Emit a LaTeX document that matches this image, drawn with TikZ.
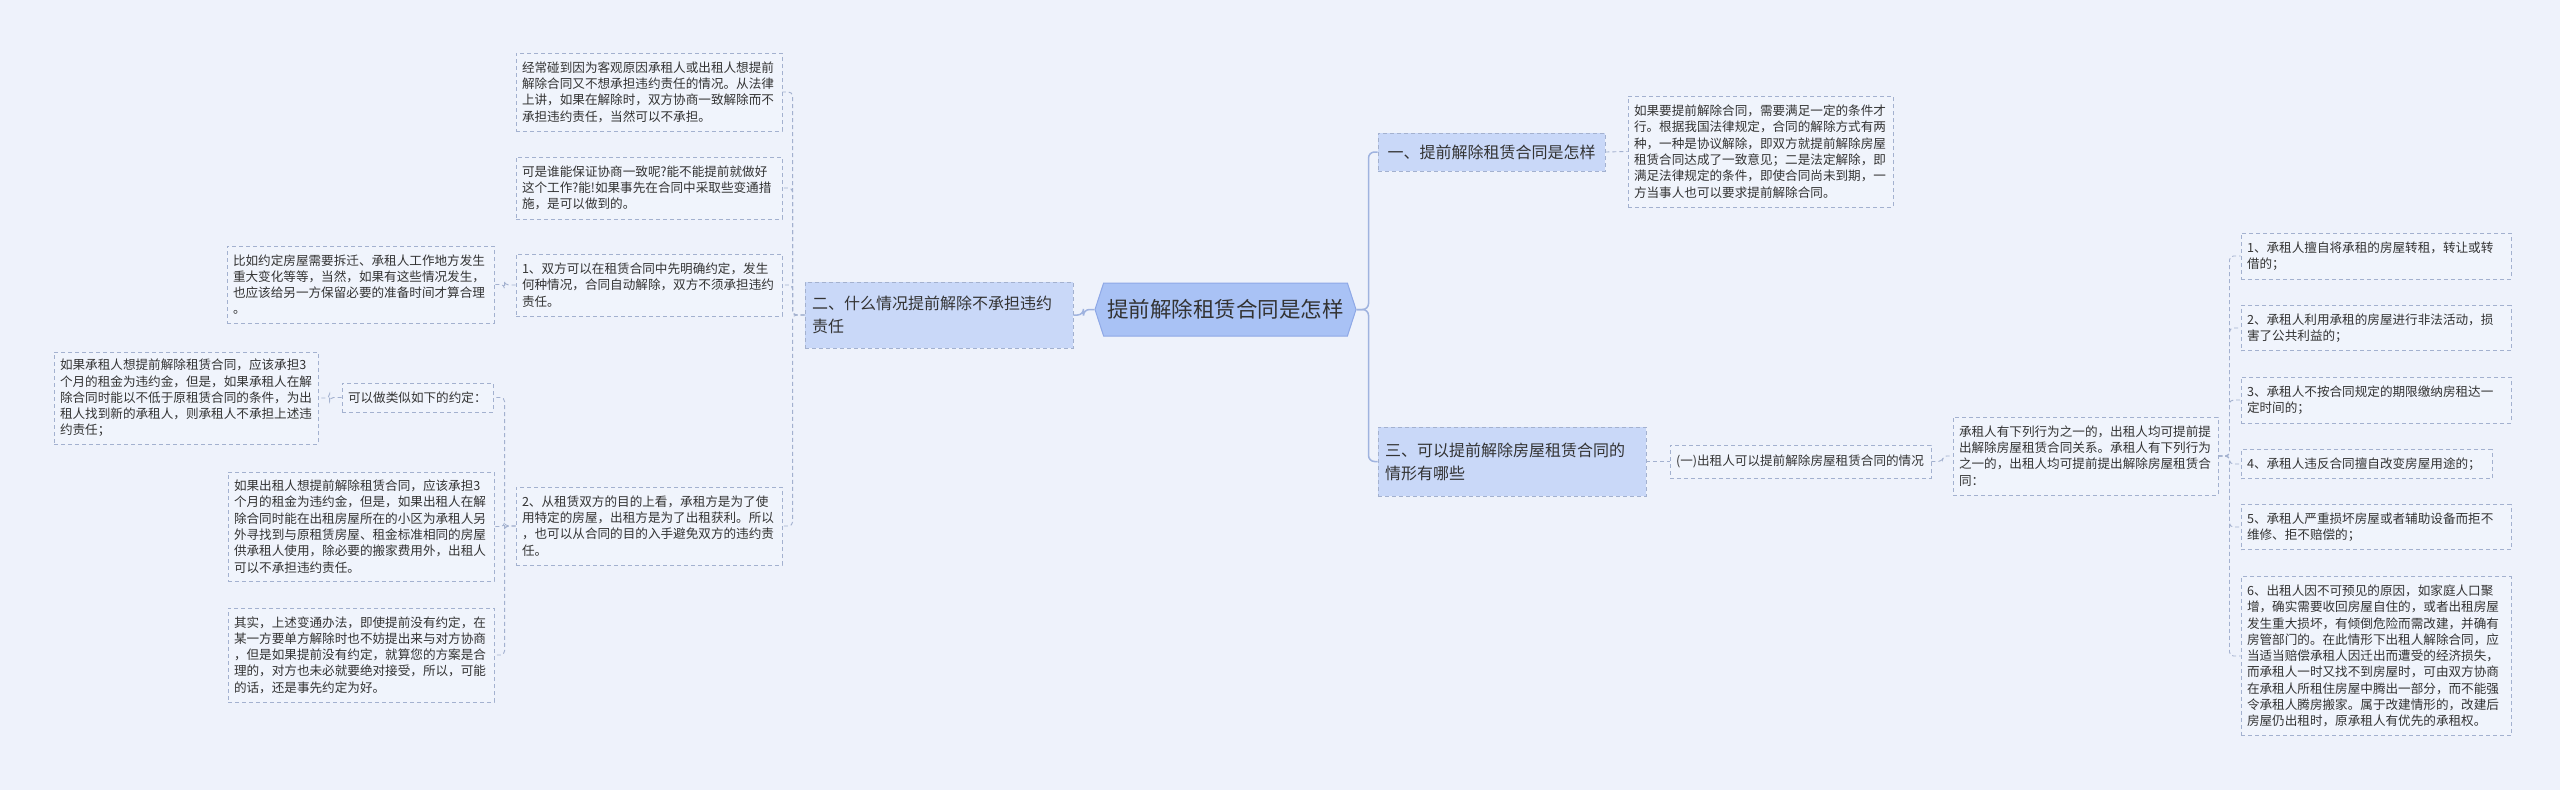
\documentclass[tikz,border=0pt]{standalone}
\usepackage{fontspec}
\setmainfont{Noto Sans CJK SC}
\usetikzlibrary{shapes.symbols}
\definecolor{bg}{HTML}{EEF2FB}
\definecolor{boxfill}{HTML}{F0F4FC}
\definecolor{dashc}{HTML}{A3B1CF}
\definecolor{branchfill}{HTML}{C9D8F8}
\definecolor{cenfill}{HTML}{A9C2F5}
\definecolor{cenborder}{HTML}{8EA8E6}
\definecolor{txt}{HTML}{333333}
\definecolor{linec}{HTML}{9FB3DF}
\tikzset{
 tbox/.style={rectangle, draw=dashc, dash pattern=on 4pt off 3pt, line width=0.9pt, fill=boxfill,
   inner xsep=6pt, inner ysep=0pt, align=left, text=txt, font=\fontsize{12.6}{16.3}\selectfont},
 brbox/.style={rectangle, draw=dashc, dash pattern=on 4pt off 3pt, line width=0.9pt, fill=branchfill,
   inner xsep=7pt, inner ysep=0pt, align=left, text=txt, font=\fontsize{16}{23}\selectfont},
 cenbox/.style={signal, signal to=west and east, signal pointer angle=144, fill=cenfill, draw=cenborder,
   line width=1pt, text=txt, font=\fontsize{21.5}{26}\selectfont, inner sep=0pt},
 sub/.style={draw=dashc, line width=0.9pt, dash pattern=on 4pt off 3pt, rounded corners=4pt},
 mainline/.style={draw=linec, line width=1.5pt, rounded corners=6pt},
}
\begin{document}
\begin{tikzpicture}[x=1pt,y=-1pt]
\useasboundingbox (0,0) rectangle (2560,790);
\fill[bg] (0,0) rectangle (2560,790);

% central
\node[cenbox, minimum width=261pt, minimum height=53pt] (cen) at (1225.5,309.5) {提前解除租赁合同是怎样};

% branches
\node[brbox, text width=254pt, minimum height=66pt] (b2) at (939,315) {二、什么情况提前解除不承担违约\\责任};
\node[brbox, text width=213pt, minimum height=38pt, align=center] (b1) at (1491.5,152) {一、提前解除租赁合同是怎样};
\node[brbox, text width=254pt, minimum height=69pt] (b3) at (1512,461.5) {三、可以提前解除房屋租赁合同的\\情形有哪些};

% right side
\node[tbox, text width=253pt, minimum height=111pt] (t1) at (1760.5,151.5) {如果要提前解除合同，需要满足一定的条件才\\行。根据我国法律规定，合同的解除方式有两\\种，一种是协议解除，即双方就提前解除房屋\\租赁合同达成了一致意见；二是法定解除，即\\满足法律规定的条件，即使合同尚未到期，一\\方当事人也可以要求提前解除合同。};
\node[tbox, text width=249pt, minimum height=33pt] (s1) at (1800.5,461.5) {(一)出租人可以提前解除房屋租赁合同的情况};
\node[tbox, text width=253pt, minimum height=78pt] (s2) at (2085.5,456) {承租人有下列行为之一的，出租人均可提前提\\出解除房屋租赁合同关系。承租人有下列行为\\之一的，出租人均可提前提出解除房屋租赁合\\同：};

\node[tbox, text width=258pt, minimum height=46pt] (r1) at (2376,256) {1、承租人擅自将承租的房屋转租，转让或转\\借的；};
\node[tbox, text width=258pt, minimum height=45pt] (r2) at (2376,328) {2、承租人利用承租的房屋进行非法活动，损\\害了公共利益的；};
\node[tbox, text width=258pt, minimum height=46pt] (r3) at (2376,400) {3、承租人不按合同规定的期限缴纳房租达一\\定时间的；};
\node[tbox, text width=239pt, minimum height=29pt] (r4) at (2366.5,464) {4、承租人违反合同擅自改变房屋用途的；};
\node[tbox, text width=258pt, minimum height=45pt] (r5) at (2376,527) {5、承租人严重损坏房屋或者辅助设备而拒不\\维修、拒不赔偿的；};
\node[tbox, text width=258pt, minimum height=159pt] (r6) at (2376,656) {6、出租人因不可预见的原因，如家庭人口聚\\增，确实需要收回房屋自住的，或者出租房屋\\发生重大损坏，有倾倒危险而需改建，并确有\\房管部门的。在此情形下出租人解除合同，应\\当适当赔偿承租人因迁出而遭受的经济损失，\\而承租人一时又找不到房屋时，可由双方协商\\在承租人所租住房屋中腾出一部分，而不能强\\令承租人腾房搬家。属于改建情形的，改建后\\房屋仍出租时，原承租人有优先的承租权。};

% left side
\node[tbox, text width=254pt, minimum height=78pt] (a1) at (649,92) {经常碰到因为客观原因承租人或出租人想提前\\解除合同又不想承担违约责任的情况。从法律\\上讲，如果在解除时，双方协商一致解除而不\\承担违约责任，当然可以不承担。};
\node[tbox, text width=254pt, minimum height=62pt] (a2) at (649,188) {可是谁能保证协商一致呢?能不能提前就做好\\这个工作?能!如果事先在合同中采取些变通措\\施，是可以做到的。};
\node[tbox, text width=254pt, minimum height=62pt] (a3) at (649,285) {1、双方可以在租赁合同中先明确约定，发生\\何种情况，合同自动解除，双方不须承担违约\\责任。};
\node[tbox, text width=254pt, minimum height=78pt] (a4) at (649,526) {2、从租赁双方的目的上看，承租方是为了使\\用特定的房屋，出租方是为了出租获利。所以\\，也可以从合同的目的入手避免双方的违约责\\任。};

\node[tbox, text width=255pt, minimum height=77pt] (l1) at (360.5,284.5) {比如约定房屋需要拆迁、承租人工作地方发生\\重大变化等等，当然，如果有这些情况发生，\\也应该给另一方保留必要的准备时间才算合理\\。};
\node[tbox, text width=139pt, minimum height=29pt] (l2) at (417.5,397.5) {可以做类似如下的约定：};
\node[tbox, text width=254pt, minimum height=109pt] (l3) at (361,526.5) {如果出租人想提前解除租赁合同，应该承担3\\个月的租金为违约金，但是，如果出租人在解\\除合同时能在出租房屋所在的小区为承租人另\\外寻找到与原租赁房屋、租金标准相同的房屋\\供承租人使用，除必要的搬家费用外，出租人\\可以不承担违约责任。};
\node[tbox, text width=254pt, minimum height=94pt] (l4) at (361,655) {其实，上述变通办法，即使提前没有约定，在\\某一方要单方解除时也不妨提出来与对方协商\\，但是如果提前没有约定，就算您的方案是合\\理的，对方也未必就要绝对接受，所以，可能\\的话，还是事先约定为好。};
\node[tbox, text width=252pt, minimum height=92pt] (l0) at (186,398) {如果承租人想提前解除租赁合同，应该承担3\\个月的租金为违约金，但是，如果承租人在解\\除合同时能以不低于原租赁合同的条件，为出\\租人找到新的承租人，则承租人不承担上述违\\约责任；};

% connectors
\draw[mainline] (cen.west) -- ++(-11,0) |- (b2.east);
\draw[mainline] (cen.east) -- ++(12,0) |- (b1.west);
\draw[mainline] (cen.east) -- ++(12,0) |- (b3.west);
\draw[sub] (b1.east) -- (t1.west);
\draw[sub] (b3.east) -- (s1.west);
\draw[sub] (s1.east) -- ++(11,0) |- (s2.west);
\foreach \r in {r1,r2,r3,r4,r5,r6} \draw[sub] (s2.east) -- ++(11,0) |- (\r.west);
\foreach \a in {a1,a2,a3,a4} \draw[sub] (b2.west) -- ++(-12,0) |- (\a.east);
\draw[sub] (a3.west) -- ++(-11,0) |- (l1.east);
\foreach \l in {l2,l3,l4} \draw[sub] (a4.west) -- ++(-11,0) |- (\l.east);
\draw[sub] (l2.west) -- ++(-12,0) |- (l0.east);
\end{tikzpicture}
\end{document}
